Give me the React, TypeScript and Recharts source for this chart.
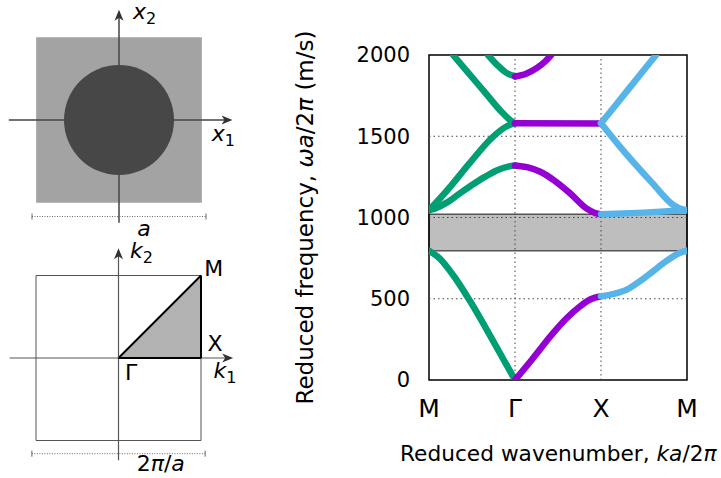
import React from 'react';
import {
  ComposedChart,
  LineChart,
  Line,
  Area,
  XAxis,
  YAxis,
  ReferenceArea,
  ReferenceLine,
  ReferenceDot,
  Label,
} from 'recharts';

const FONT = '"DejaVu Sans", sans-serif';
const GREEN = '#009e73';
const PURPLE = '#9400d3';
const BLUE = '#56b4e9';

// path M -> Gamma
const mgBand1 = [
  { k: 0, w: 796 }, { k: 0.12, w: 750 }, { k: 0.28, w: 646 }, { k: 0.47, w: 492 },
  { k: 0.74, w: 246 }, { k: 1, w: 0 },
];
const mgBand2 = [
  { k: 0, w: 1045 }, { k: 0.1, w: 1062 }, { k: 0.2, w: 1090 }, { k: 0.35, w: 1145 },
  { k: 0.5, w: 1200 }, { k: 0.65, w: 1250 }, { k: 0.8, w: 1292 }, { k: 0.92, w: 1313 },
  { k: 1, w: 1320 },
];
const mgBand3 = [
  { k: 0, w: 1045 }, { k: 0.2, w: 1160 }, { k: 0.47, w: 1333 }, { k: 0.74, w: 1495 },
  { k: 0.9, w: 1560 }, { k: 1, w: 1580 },
];
const mgBand4 = [
  { k: 0.28, w: 2000 }, { k: 0.45, w: 1895 }, { k: 0.66, w: 1764 }, { k: 0.86, w: 1641 },
  { k: 0.95, w: 1596 }, { k: 1, w: 1580 },
];
const mgBand5 = [
  { k: 0.686, w: 2000 }, { k: 0.8, w: 1935 }, { k: 0.9, w: 1890 }, { k: 1, w: 1868 },
];

// path Gamma -> X
const gxBand1 = [
  { k: 1, w: 0 }, { k: 1.2, w: 128 }, { k: 1.44, w: 287 }, { k: 1.6, w: 380 },
  { k: 1.75, w: 451 }, { k: 1.88, w: 497 }, { k: 2, w: 515 },
];
const gxBand2 = [
  { k: 1, w: 1320 }, { k: 1.15, w: 1308 }, { k: 1.3, w: 1280 }, { k: 1.45, w: 1230 },
  { k: 1.64, w: 1149 }, { k: 1.83, w: 1056 }, { k: 1.93, w: 1028 }, { k: 2, w: 1020 },
];
const gxBand3 = [{ k: 1, w: 1580 }, { k: 2, w: 1578 }];
const gxBand4 = [
  { k: 1, w: 1868 }, { k: 1.13, w: 1885 }, { k: 1.26, w: 1922 }, { k: 1.35, w: 1960 },
  { k: 1.42, w: 2000 },
];

// path X -> M
const xmBand1 = [
  { k: 2, w: 515 }, { k: 2.15, w: 530 }, { k: 2.3, w: 556 }, { k: 2.45, w: 607 },
  { k: 2.6, w: 667 }, { k: 2.75, w: 728 }, { k: 2.9, w: 778 }, { k: 3, w: 796 },
];
const xmBand2 = [{ k: 2, w: 1020 }, { k: 2.5, w: 1030 }, { k: 3, w: 1045 }];
const xmBand3 = [
  { k: 2, w: 1580 }, { k: 2.22, w: 1436 }, { k: 2.6, w: 1210 }, { k: 2.84, w: 1077 },
  { k: 2.95, w: 1050 }, { k: 3, w: 1045 },
];
const xmBand4 = [{ k: 2, w: 1580 }, { k: 2.32, w: 1790 }, { k: 2.64, w: 2000 }];

const kTicks = [0, 1, 2, 3];
const kTickLabels = ['M', 'Γ', 'X', 'M'];
const wTicks = [0, 500, 1000, 1500, 2000];
const gridK = [1, 2];
const gridW = [500, 1000, 1500];
const gapLow = 796;
const gapHigh = 1020;

// irreducible Brillouin zone: Gamma -> M diagonal
const ibzDiagonal = [{ k1: 0, k2: 0 }, { k1: 1, k2: 1 }];

const bands = [
  { data: mgBand1, color: GREEN }, { data: mgBand2, color: GREEN }, { data: mgBand3, color: GREEN },
  { data: mgBand4, color: GREEN }, { data: mgBand5, color: GREEN },
  { data: gxBand1, color: PURPLE }, { data: gxBand2, color: PURPLE }, { data: gxBand3, color: PURPLE },
  { data: gxBand4, color: PURPLE },
  { data: xmBand1, color: BLUE }, { data: xmBand2, color: BLUE }, { data: xmBand3, color: BLUE },
  { data: xmBand4, color: BLUE },
];

const arrowRight = (p: any) => (
  <path d={`M${p.cx},${p.cy} l-11,-4.5 l3,4.5 l-3,4.5 z`} fill="#333" />
);
const arrowUp = (p: any) => (
  <path d={`M${p.cx},${p.cy} l-4.5,11 l4.5,-3 l4.5,3 z`} fill="#333" />
);
const endBar = (p: any) => (
  <line x1={p.cx} x2={p.cx} y1={p.cy - 3} y2={p.cy + 3} stroke="#666" strokeWidth={1} />
);
const textAt = (content: React.ReactNode) => (p: any) => (
  <text x={p.cx} y={p.cy} fontSize={22} fontFamily={FONT} fill="#000">
    {content}
  </text>
);

const sub = (s: string) => (
  <tspan dy={5} fontSize={16}>{s}</tspan>
);

const YLabel = (props: any) => {
  const { x, y, height } = props.viewBox;
  const cx = x + 23;
  const cy = y + height / 2;
  return (
    <text x={cx} y={cy} transform={`rotate(-90 ${cx} ${cy})`} textAnchor="middle"
      fontSize={23} fontFamily={FONT} fill="#000">
      Reduced frequency, <tspan fontStyle="italic">ωa</tspan>/2<tspan fontStyle="italic">π</tspan> (m/s)
    </text>
  );
};

const XLabel = (props: any) => {
  const { x, y } = props.viewBox;
  return (
    <text x={x - 29} y={y + 81} textAnchor="start" fontSize={21.7} fontFamily={FONT} fill="#000">
      Reduced wavenumber, <tspan fontStyle="italic">ka</tspan>/2<tspan fontStyle="italic">π</tspan>
    </text>
  );
};

const UnitCell = () => (
  <ComposedChart width={250} height={245} margin={{ top: 4, right: 15, bottom: 9, left: 3 }}>
    <XAxis type="number" dataKey="x" domain={[-1.4, 1.4]} hide allowDataOverflow />
    <YAxis type="number" domain={[-1.4, 1.4]} hide allowDataOverflow />
    <ReferenceArea x1={-1} x2={1} y1={-1} y2={1} fill="#a3a3a3" fillOpacity={1} stroke="none" />
    <ReferenceDot x={0} y={0} r={55} fill="#474747" stroke="none" />
    <ReferenceLine segment={[{ x: -1.33, y: 0 }, { x: 1.34, y: 0 }]} stroke="#444" strokeWidth={1.5} />
    <ReferenceLine segment={[{ x: 0, y: -1.24 }, { x: 0, y: 1.3 }]} stroke="#444" strokeWidth={1.5} />
    <ReferenceDot x={1.37} y={0} shape={arrowRight} ifOverflow="visible" />
    <ReferenceDot x={0} y={1.33} shape={arrowUp} ifOverflow="visible" />
    <ReferenceLine segment={[{ x: -1.05, y: -1.165 }, { x: 1.05, y: -1.165 }]} stroke="#666"
      strokeWidth={1} strokeDasharray="1 1.5" />
    <ReferenceDot x={-1.05} y={-1.165} shape={endBar} ifOverflow="visible" />
    <ReferenceDot x={1.05} y={-1.165} shape={endBar} ifOverflow="visible" />
    <ReferenceDot x={0.17} y={1.22} ifOverflow="visible"
      shape={textAt(<><tspan fontStyle="italic">x</tspan>{sub('2')}</>)} />
    <ReferenceDot x={1.12} y={-0.25} ifOverflow="visible"
      shape={textAt(<><tspan fontStyle="italic">x</tspan>{sub('1')}</>)} />
    <ReferenceDot x={0.22} y={-1.4} ifOverflow="visible"
      shape={textAt(<tspan fontStyle="italic">a</tspan>)} />
  </ComposedChart>
);

const Brillouin = () => (
  <ComposedChart width={250} height={248} data={ibzDiagonal}
    margin={{ top: 12.5, right: 16, bottom: 4.5, left: 3 }}>
    <XAxis type="number" dataKey="k1" domain={[-1.4, 1.4]} hide allowDataOverflow />
    <YAxis type="number" domain={[-1.4, 1.4]} hide allowDataOverflow />
    <ReferenceArea x1={-1} x2={1} y1={-1} y2={1} fill="none" stroke="#555" strokeWidth={1} />
    <ReferenceLine segment={[{ x: -1.32, y: 0 }, { x: 1.36, y: 0 }]} stroke="#555" strokeWidth={1.2} />
    <ReferenceLine segment={[{ x: 0, y: -1.24 }, { x: 0, y: 1.3 }]} stroke="#555" strokeWidth={1.2} />
    <Area type="linear" dataKey="k2" baseValue={0} fill="#b3b3b3" fillOpacity={1} stroke="#000"
      strokeWidth={2} isAnimationActive={false} dot={false} activeDot={false} />
    <ReferenceLine segment={[{ x: 0, y: 0 }, { x: 1, y: 0 }]} stroke="#000" strokeWidth={2} />
    <ReferenceLine segment={[{ x: 1, y: 0 }, { x: 1, y: 1 }]} stroke="#000" strokeWidth={2} />
    <ReferenceDot x={1.39} y={0} shape={arrowRight} ifOverflow="visible" />
    <ReferenceDot x={0} y={1.33} shape={arrowUp} ifOverflow="visible" />
    <ReferenceLine segment={[{ x: -1.05, y: -1.16 }, { x: 1.05, y: -1.16 }]} stroke="#666"
      strokeWidth={1} strokeDasharray="1 1.5" />
    <ReferenceDot x={-1.05} y={-1.16} shape={endBar} ifOverflow="visible" />
    <ReferenceDot x={1.05} y={-1.16} shape={endBar} ifOverflow="visible" />
    <ReferenceDot x={1.04} y={0.99} ifOverflow="visible" shape={textAt('M')} />
    <ReferenceDot x={1.08} y={0.085} ifOverflow="visible" shape={textAt('X')} />
    <ReferenceDot x={0.08} y={-0.27} ifOverflow="visible" shape={textAt('Γ')} />
    <ReferenceDot x={1.15} y={-0.24} ifOverflow="visible"
      shape={textAt(<><tspan fontStyle="italic">k</tspan>{sub('1')}</>)} />
    <ReferenceDot x={0.14} y={1.21} ifOverflow="visible"
      shape={textAt(<><tspan fontStyle="italic">k</tspan>{sub('2')}</>)} />
    <ReferenceDot x={0.22} y={-1.37} ifOverflow="visible"
      shape={textAt(<>2<tspan fontStyle="italic">π</tspan>/<tspan fontStyle="italic">a</tspan></>)} />
  </ComposedChart>
);

const BandStructure = () => (
  <LineChart width={431} height={478} margin={{ top: 55, right: 34, bottom: 38, left: 0 }}>
    <XAxis dataKey="k" type="number" domain={[0, 3]} ticks={kTicks} interval={0} allowDataOverflow
      tickFormatter={(v: number) => kTickLabels[kTicks.indexOf(v)]} axisLine={false} tickLine={false}
      tickSize={0} tickMargin={19} height={60}
      tick={{ fontSize: 25, fill: '#000', fontFamily: FONT }}>
      <Label content={XLabel} />
    </XAxis>
    <YAxis type="number" domain={[0, 2000]} ticks={wTicks} interval={0} allowDataOverflow width={139}
      axisLine={false} tickLine={false} tickSize={0} tickMargin={19}
      tick={{ fontSize: 21, fill: '#000', fontFamily: FONT }}>
      <Label content={YLabel} />
    </YAxis>
    <YAxis yAxisId="inL" orientation="left" mirror type="number" domain={[0, 2000]} ticks={gridW}
      tick={false} axisLine={false} tickLine={{ stroke: '#000' }} tickSize={7} width={0} />
    <YAxis yAxisId="inR" orientation="right" mirror type="number" domain={[0, 2000]} ticks={gridW}
      tick={false} axisLine={false} tickLine={{ stroke: '#000' }} tickSize={7} width={0} />
    <XAxis xAxisId="inB" orientation="bottom" mirror type="number" domain={[0, 3]} ticks={gridK}
      tick={false} axisLine={false} tickLine={{ stroke: '#000' }} tickSize={7} height={0} />
    <XAxis xAxisId="inT" orientation="top" mirror type="number" domain={[0, 3]} ticks={gridK}
      tick={false} axisLine={false} tickLine={{ stroke: '#000' }} tickSize={7} height={0} />
    {gridK.map((k) => (
      <ReferenceLine key={`gk${k}`} x={k} stroke="#444" strokeWidth={1} strokeDasharray="1.5 3" />
    ))}
    {gridW.map((w) => (
      <ReferenceLine key={`gw${w}`} y={w} stroke="#444" strokeWidth={1} strokeDasharray="1.5 3" />
    ))}
    <ReferenceArea x1={0} x2={3} y1={gapLow} y2={gapHigh} fill="#bebebe" fillOpacity={1}
      stroke="#555" strokeWidth={1.5} />
    {bands.map((b, i) => (
      <Line key={i} data={b.data} dataKey="w" type="monotone" stroke={b.color} strokeWidth={6.5}
        strokeLinecap="round" strokeLinejoin="round" dot={false} activeDot={false}
        isAnimationActive={false} />
    ))}
    <ReferenceArea x1={0} x2={3} y1={0} y2={2000} fill="none" stroke="#000" strokeWidth={1.5} />
  </LineChart>
);

export default function App() {
  return (
    <div style={{ position: 'absolute', left: 0, top: 0, width: 721, height: 478, background: '#fff' }}>
      <div style={{ position: 'absolute', left: 0, top: 0 }}>
        <UnitCell />
      </div>
      <div style={{ position: 'absolute', left: 0, top: 230 }}>
        <Brillouin />
      </div>
      <div style={{ position: 'absolute', left: 290, top: 0 }}>
        <BandStructure />
      </div>
    </div>
  );
}
